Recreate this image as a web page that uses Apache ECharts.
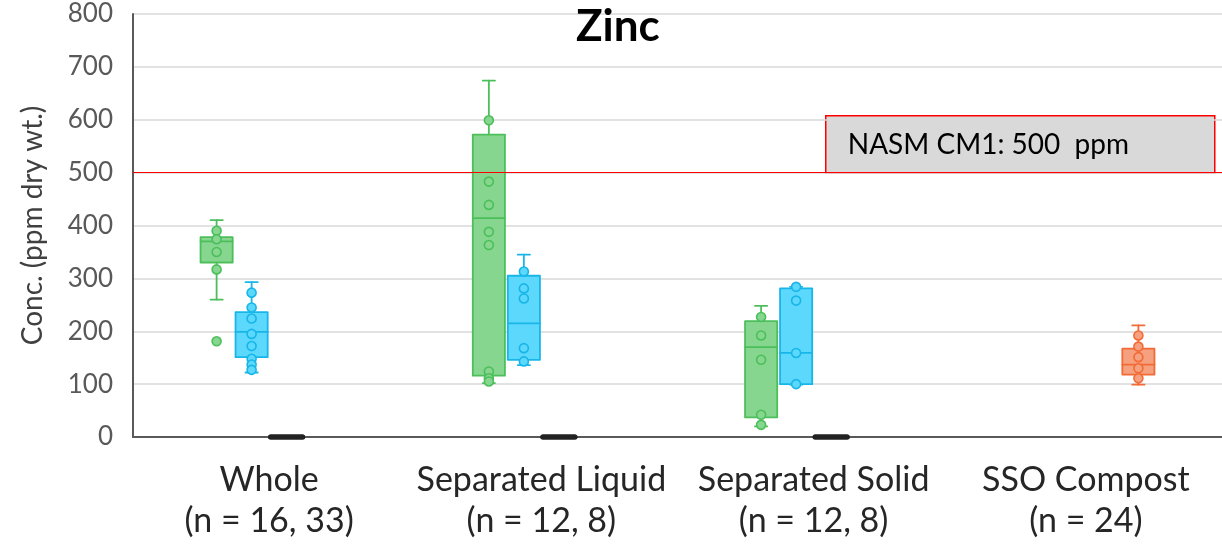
<!DOCTYPE html>
<html>
<head>
<meta charset="utf-8">
<script src="https://cdn.jsdelivr.net/npm/echarts@6/dist/echarts.min.js"></script>
<style>
  html, body { margin: 0; padding: 0; background: #fff; }
  #chart { width: 1222px; height: 545px; }
</style>
</head>
<body>
<div id="chart"></div>
<script>
// Zinc concentrations by digestate fraction
const categories = ['Whole\n(n = 16, 33)', 'Separated Liquid\n(n = 12, 8)', 'Separated Solid\n(n = 12, 8)', 'SSO Compost\n(n = 24)'];
const yTicks = [0, 100, 200, 300, 400, 500, 600, 700, 800];
const limitValue = 500;
const limitLabel = 'NASM CM1: 500  ppm';

// Five-number summaries [min, Q1, median, Q3, max] per category (null = no data)
const greenBoxes = [[260, 330, 370, 378, 410], [102, 116, 414, 572, 674], [20, 37, 170, 219, 248], null];
const blueBoxes = [[122, 151, 199, 236, 293], [136, 146, 215, 305, 345], [99, 100, 159, 281, 284], null];
const darkBoxes = [[0, 0, 0, 0, 0], [0, 0, 0, 0, 0], [0, 0, 0, 0, 0], null];
const orangeBoxes = [null, null, null, [99, 118, 137, 167, 211]];

// Individual sample values per category
const greenPoints = [[390, 374, 350, 317, 181], [599, 483, 439, 388, 363, 124, 111, 105], [227, 192, 146, 42, 23], []];
const bluePoints = [[273, 245, 224, 195, 172, 148, 137, 127], [313, 281, 262, 168, 143], [284, 258, 159, 100], []];
const darkPoints = [[0, 0, 0], [0, 0, 0], [0, 0, 0], []];
const orangePoints = [[], [], [], [192, 171, 151, 130, 111]];

const FONT = 'Lato, "Open Sans", sans-serif';
const SLOT = 0.1286;     // spacing between sub-series within a category
const BOX_W = 0.118;     // box width in category units
const CAP_W = 0.045;     // whisker cap width in category units

const groups = [
  { boxes: greenBoxes, points: greenPoints, offset: -1.5 * SLOT, fill: '#86d68f', stroke: '#4cbf5b', lw: 1.8 },
  { boxes: blueBoxes, points: bluePoints, offset: -0.5 * SLOT, fill: '#5cd8fd', stroke: '#18b6e8', lw: 1.8 },
  { boxes: darkBoxes, points: darkPoints, offset: 0.5 * SLOT, fill: '#222222', stroke: '#222222', lw: 5 },
  { boxes: orangeBoxes, points: orangePoints, offset: 1.5 * SLOT, fill: '#f5a17f', stroke: '#f26a35', lw: 1.8 }
];

function boxRenderer(g) {
  return function (params, api) {
    const x = api.value(0) + g.offset;
    const pMin = api.coord([x, api.value(1)]);
    const pQ1 = api.coord([x, api.value(2)]);
    const pMed = api.coord([x, api.value(3)]);
    const pQ3 = api.coord([x, api.value(4)]);
    const pMax = api.coord([x, api.value(5)]);
    const half = api.size([BOX_W, 0])[0] / 2;
    const capHalf = api.size([CAP_W, 0])[0] / 2;
    const cx = pMed[0];
    const line = { stroke: g.stroke, lineWidth: g.lw, lineCap: 'round' };
    const children = [];
    if (pMax[1] < pQ3[1]) {
      children.push({ type: 'line', shape: { x1: cx, y1: pMax[1], x2: cx, y2: pQ3[1] }, style: line });
      children.push({ type: 'line', shape: { x1: cx - capHalf, y1: pMax[1], x2: cx + capHalf, y2: pMax[1] }, style: line });
    }
    if (pMin[1] > pQ1[1]) {
      children.push({ type: 'line', shape: { x1: cx, y1: pQ1[1], x2: cx, y2: pMin[1] }, style: line });
      children.push({ type: 'line', shape: { x1: cx - capHalf, y1: pMin[1], x2: cx + capHalf, y2: pMin[1] }, style: line });
    }
    children.push({
      type: 'rect',
      shape: { x: cx - half, y: pQ3[1], width: half * 2, height: pQ1[1] - pQ3[1] },
      style: { fill: g.fill, stroke: g.stroke, lineWidth: g.lw, lineJoin: 'round' }
    });
    children.push({ type: 'line', shape: { x1: cx - half, y1: pMed[1], x2: cx + half, y2: pMed[1] }, style: line });
    return { type: 'group', children: children };
  };
}

const series = [];
groups.forEach(function (g, gi) {
  const boxData = [];
  g.boxes.forEach(function (b, ci) { if (b) boxData.push([ci].concat(b)); });
  series.push({
    type: 'custom',
    xAxisIndex: 1,
    renderItem: boxRenderer(g),
    encode: { x: 0, y: [1, 2, 3, 4, 5] },
    data: boxData,
    z: 2
  });
  const pts = [];
  g.points.forEach(function (list, ci) { list.forEach(function (v) { pts.push([ci + g.offset, v]); }); });
  if (gi !== 2) {
    series.push({
      type: 'scatter',
      xAxisIndex: 1,
      symbol: 'circle',
      symbolSize: 9,
      itemStyle: { color: g.fill, borderColor: g.stroke, borderWidth: 1.6, opacity: 1 },
      data: pts,
      z: 3,
      silent: true
    });
  }
});

// Regulatory limit line
series.push({
  type: 'line',
  xAxisIndex: 1,
  data: [],
  markLine: {
    silent: true,
    symbol: 'none',
    label: { show: false },
    lineStyle: { color: '#ff0000', width: 1.2, type: 'solid' },
    data: [{ yAxis: limitValue }]
  },
  z: 4
});

const chart = echarts.init(document.getElementById('chart'), null, { renderer: 'canvas' });
chart.setOption({
  animation: false,
  backgroundColor: '#ffffff',
  title: {
    text: 'Zinc',
    left: 571,
    top: 0,
    textStyle: { fontFamily: FONT, fontSize: 44, fontWeight: 'bold', color: '#000000' }
  },
  grid: { left: 133, right: 0, top: 14, bottom: 108, containLabel: false },
  xAxis: [
    {
      type: 'category',
      data: categories,
      axisLine: { show: true, lineStyle: { color: '#595959', width: 2 } },
      axisTick: { show: false },
      axisLabel: { interval: 0, fontFamily: FONT, fontSize: 34, color: '#262626', lineHeight: 41, margin: 23 },
      splitLine: { show: false }
    },
    { type: 'value', min: -0.5, max: 3.5, show: false }
  ],
  yAxis: {
    type: 'value',
    min: yTicks[0],
    max: yTicks[yTicks.length - 1],
    interval: 100,
    name: 'Conc. (ppm dry wt.)',
    nameLocation: 'middle',
    nameRotate: 90,
    nameGap: 86,
    nameTextStyle: { fontFamily: FONT, fontSize: 28, color: '#404040' },
    axisLine: { show: true, onZero: false, lineStyle: { color: '#595959', width: 2 } },
    axisTick: { show: false },
    axisLabel: { fontFamily: FONT, fontSize: 26, color: '#595959', margin: 20 },
    splitLine: { lineStyle: { color: '#d9d9d9', width: 1.5 } }
  },
  series: series,
  graphic: [
    {
      type: 'group',
      left: 825,
      top: 115,
      children: [
        { type: 'rect', shape: { x: 0, y: 0, width: 389, height: 57 }, style: { fill: '#d9d9d9', stroke: '#ff0000', lineWidth: 1.5 } },
        { type: 'text', x: 22, y: 29, style: { text: limitLabel, fontFamily: FONT, fontSize: 28, fill: '#000000', verticalAlign: 'middle' } }
      ]
    }
  ]
});
</script>
</body>
</html>
